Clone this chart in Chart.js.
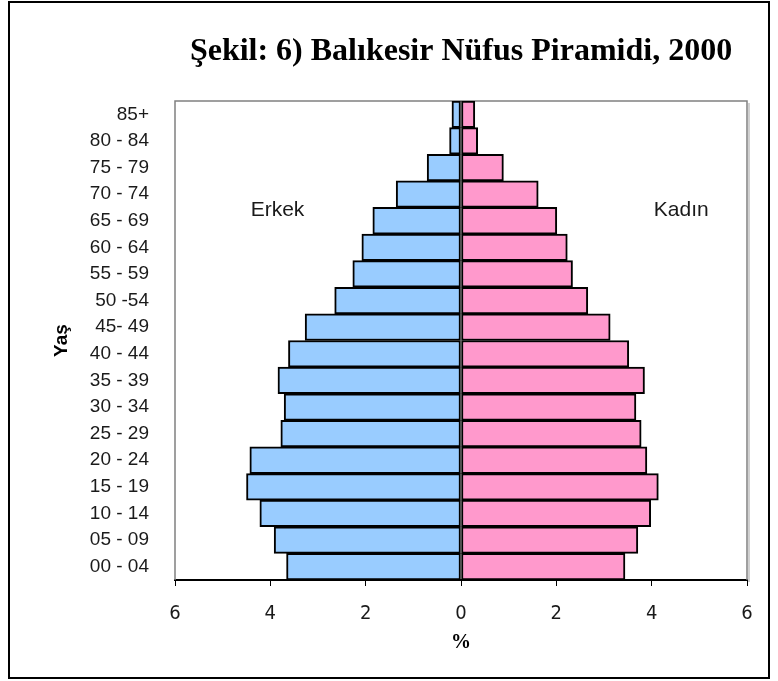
<!DOCTYPE html>
<html>
<head>
<meta charset="utf-8">
<script src="https://cdn.jsdelivr.net/npm/chart.js@4/dist/chart.umd.min.js"></script>
<style>
  html, body { margin: 0; padding: 0; background: #ffffff; }
  #wrap { width: 778px; height: 681px; position: relative; }
</style>
</head>
<body>
<div id="wrap"><canvas id="c" width="778" height="681"></canvas></div>
<script>
// ---- Data ----
const ageGroups = ["00 - 04", "05 - 09", "10 - 14", "15 - 19", "20 - 24", "25 - 29", "30 - 34", "35 - 39", "40 - 44", "45- 49", "50 -54", "55 - 59", "60 - 64", "65 - 69", "70 - 74", "75 - 79", "80 - 84", "85+"];
const maleValues = [3.66, 3.92, 4.22, 4.50, 4.43, 3.78, 3.71, 3.84, 3.62, 3.27, 2.65, 2.27, 2.08, 1.85, 1.36, 0.71, 0.24, 0.19];
const femaleValues = [3.44, 3.71, 3.98, 4.14, 3.90, 3.78, 3.67, 3.85, 3.52, 3.13, 2.66, 2.34, 2.23, 2.01, 1.62, 0.89, 0.35, 0.29];
const seriesNames = ["Erkek", "Kadın"];
const xTickValues = [-6, -4, -2, 0, 2, 4, 6];
const chartTitle = "Şekil: 6) Balıkesir Nüfus Piramidi, 2000";
const yAxisTitle = "Yaş";
const xAxisTitle = "%";
// in-plot series labels: [text, x value, category position]
const seriesLabelPos = [["Erkek", -3.85, 13.4], ["Kadın", 4.62, 13.4]];

const maleNeg = maleValues.map(v => -v);

const framePlugin = {
  id: 'frames',
  beforeDraw(chart) {
    const ctx = chart.ctx;
    ctx.save();
    ctx.fillStyle = '#ffffff';
    ctx.fillRect(0, 0, chart.width, chart.height);
    ctx.restore();
  },
  beforeDatasetsDraw(chart) {
    const {ctx, chartArea: a} = chart;
    ctx.save();
    // shadow on right
    ctx.strokeStyle = '#d0d0d0';
    ctx.lineWidth = 2;
    ctx.beginPath();
    ctx.moveTo(a.right + 2, a.top + 2);
    ctx.lineTo(a.right + 2, a.bottom + 2);
    ctx.stroke();
    // plot frame (gray)
    ctx.strokeStyle = '#808080';
    ctx.lineWidth = 1.5;
    ctx.beginPath();
    ctx.moveTo(a.left, a.bottom);
    ctx.lineTo(a.left, a.top);
    ctx.lineTo(a.right, a.top);
    ctx.lineTo(a.right, a.bottom);
    ctx.stroke();
    ctx.restore();
  },
  afterDraw(chart) {
    const {ctx} = chart;
    ctx.save();
    // series labels inside plot
    const xs = chart.scales.x, ys = chart.scales.y;
    ctx.font = '21px "Liberation Sans", Arial, sans-serif';
    ctx.fillStyle = '#1a1a1a';
    ctx.textAlign = 'center';
    ctx.textBaseline = 'middle';
    seriesLabelPos.forEach(([t, xv, yv]) => {
      ctx.fillText(t, xs.getPixelForValue(xv), ys.getPixelForValue(yv));
    });
    // outer frame
    ctx.strokeStyle = '#000000';
    ctx.lineWidth = 2;
    ctx.strokeRect(9, 2, 760, 676);
    ctx.restore();
  }
};

new Chart(document.getElementById('c'), {
  type: 'bar',
  data: {
    labels: ageGroups,
    datasets: [
      {
        label: seriesNames[0],
        data: maleNeg,
        backgroundColor: '#99CCFF',
        borderColor: '#000000',
        borderWidth: 2,
        borderSkipped: false,
        barPercentage: 1.0,
        categoryPercentage: 1.0
      },
      {
        label: seriesNames[1],
        data: femaleValues,
        backgroundColor: '#FF99CC',
        borderColor: '#000000',
        borderWidth: 2,
        borderSkipped: false,
        barPercentage: 1.0,
        categoryPercentage: 1.0
      }
    ]
  },
  options: {
    indexAxis: 'y',
    responsive: false,
    animation: false,
    maintainAspectRatio: false,
    layout: { padding: { left: 0, right: 31, top: 0, bottom: 0 } },
    plugins: {
      legend: { display: false },
      tooltip: { enabled: false },
      title: {
        display: true,
        text: chartTitle,
        fullSize: false,
        color: '#000000',
        font: { family: '"Liberation Serif", "Times New Roman", serif', size: 32, weight: 'bold', lineHeight: 1.2 },
        padding: { top: 33, bottom: 29.6 }
      }
    },
    scales: {
      x: {
        type: 'linear',
        stacked: true,
        min: -6,
        max: 6,
        afterBuildTicks(scale) { scale.ticks = xTickValues.map(v => ({ value: v })); },
        afterFit(scale) { scale.height = 101; },
        ticks: {
          callback: v => String(Math.abs(v)),
          color: '#1a1a1a',
          padding: 16,
          maxRotation: 0,
          font: { family: '"Liberation Sans Narrow", "Arial Narrow", "DejaVu Sans Condensed", sans-serif', size: 20 }
        },
        grid: {
          display: true,
          drawOnChartArea: false,
          drawTicks: true,
          tickLength: 6,
          color: '#000000',
          lineWidth: 1
        },
        border: { display: true, color: '#000000', width: 2 },
        title: {
          display: true,
          text: xAxisTitle,
          color: '#000000',
          font: { family: '"Liberation Serif", "Times New Roman", serif', size: 20, weight: 'bold', lineHeight: 1.2 },
          padding: { top: 0, bottom: 26 }
        }
      },
      y: {
        type: 'category',
        stacked: true,
        reverse: true,
        afterFit(scale) { scale.width = 175; },
        ticks: {
          color: '#1a1a1a',
          padding: 26,
          font: { family: '"Liberation Sans", Arial, sans-serif', size: 19 }
        },
        grid: { display: false, drawTicks: false },
        border: { display: false },
        title: {
          display: true,
          text: yAxisTitle,
          color: '#000000',
          font: { family: '"Liberation Sans", Arial, sans-serif', size: 19, weight: 'bold', lineHeight: 1.2 },
          padding: { top: 50, bottom: 0 }
        }
      }
    }
  },
  plugins: [framePlugin]
});
</script>
</body>
</html>
